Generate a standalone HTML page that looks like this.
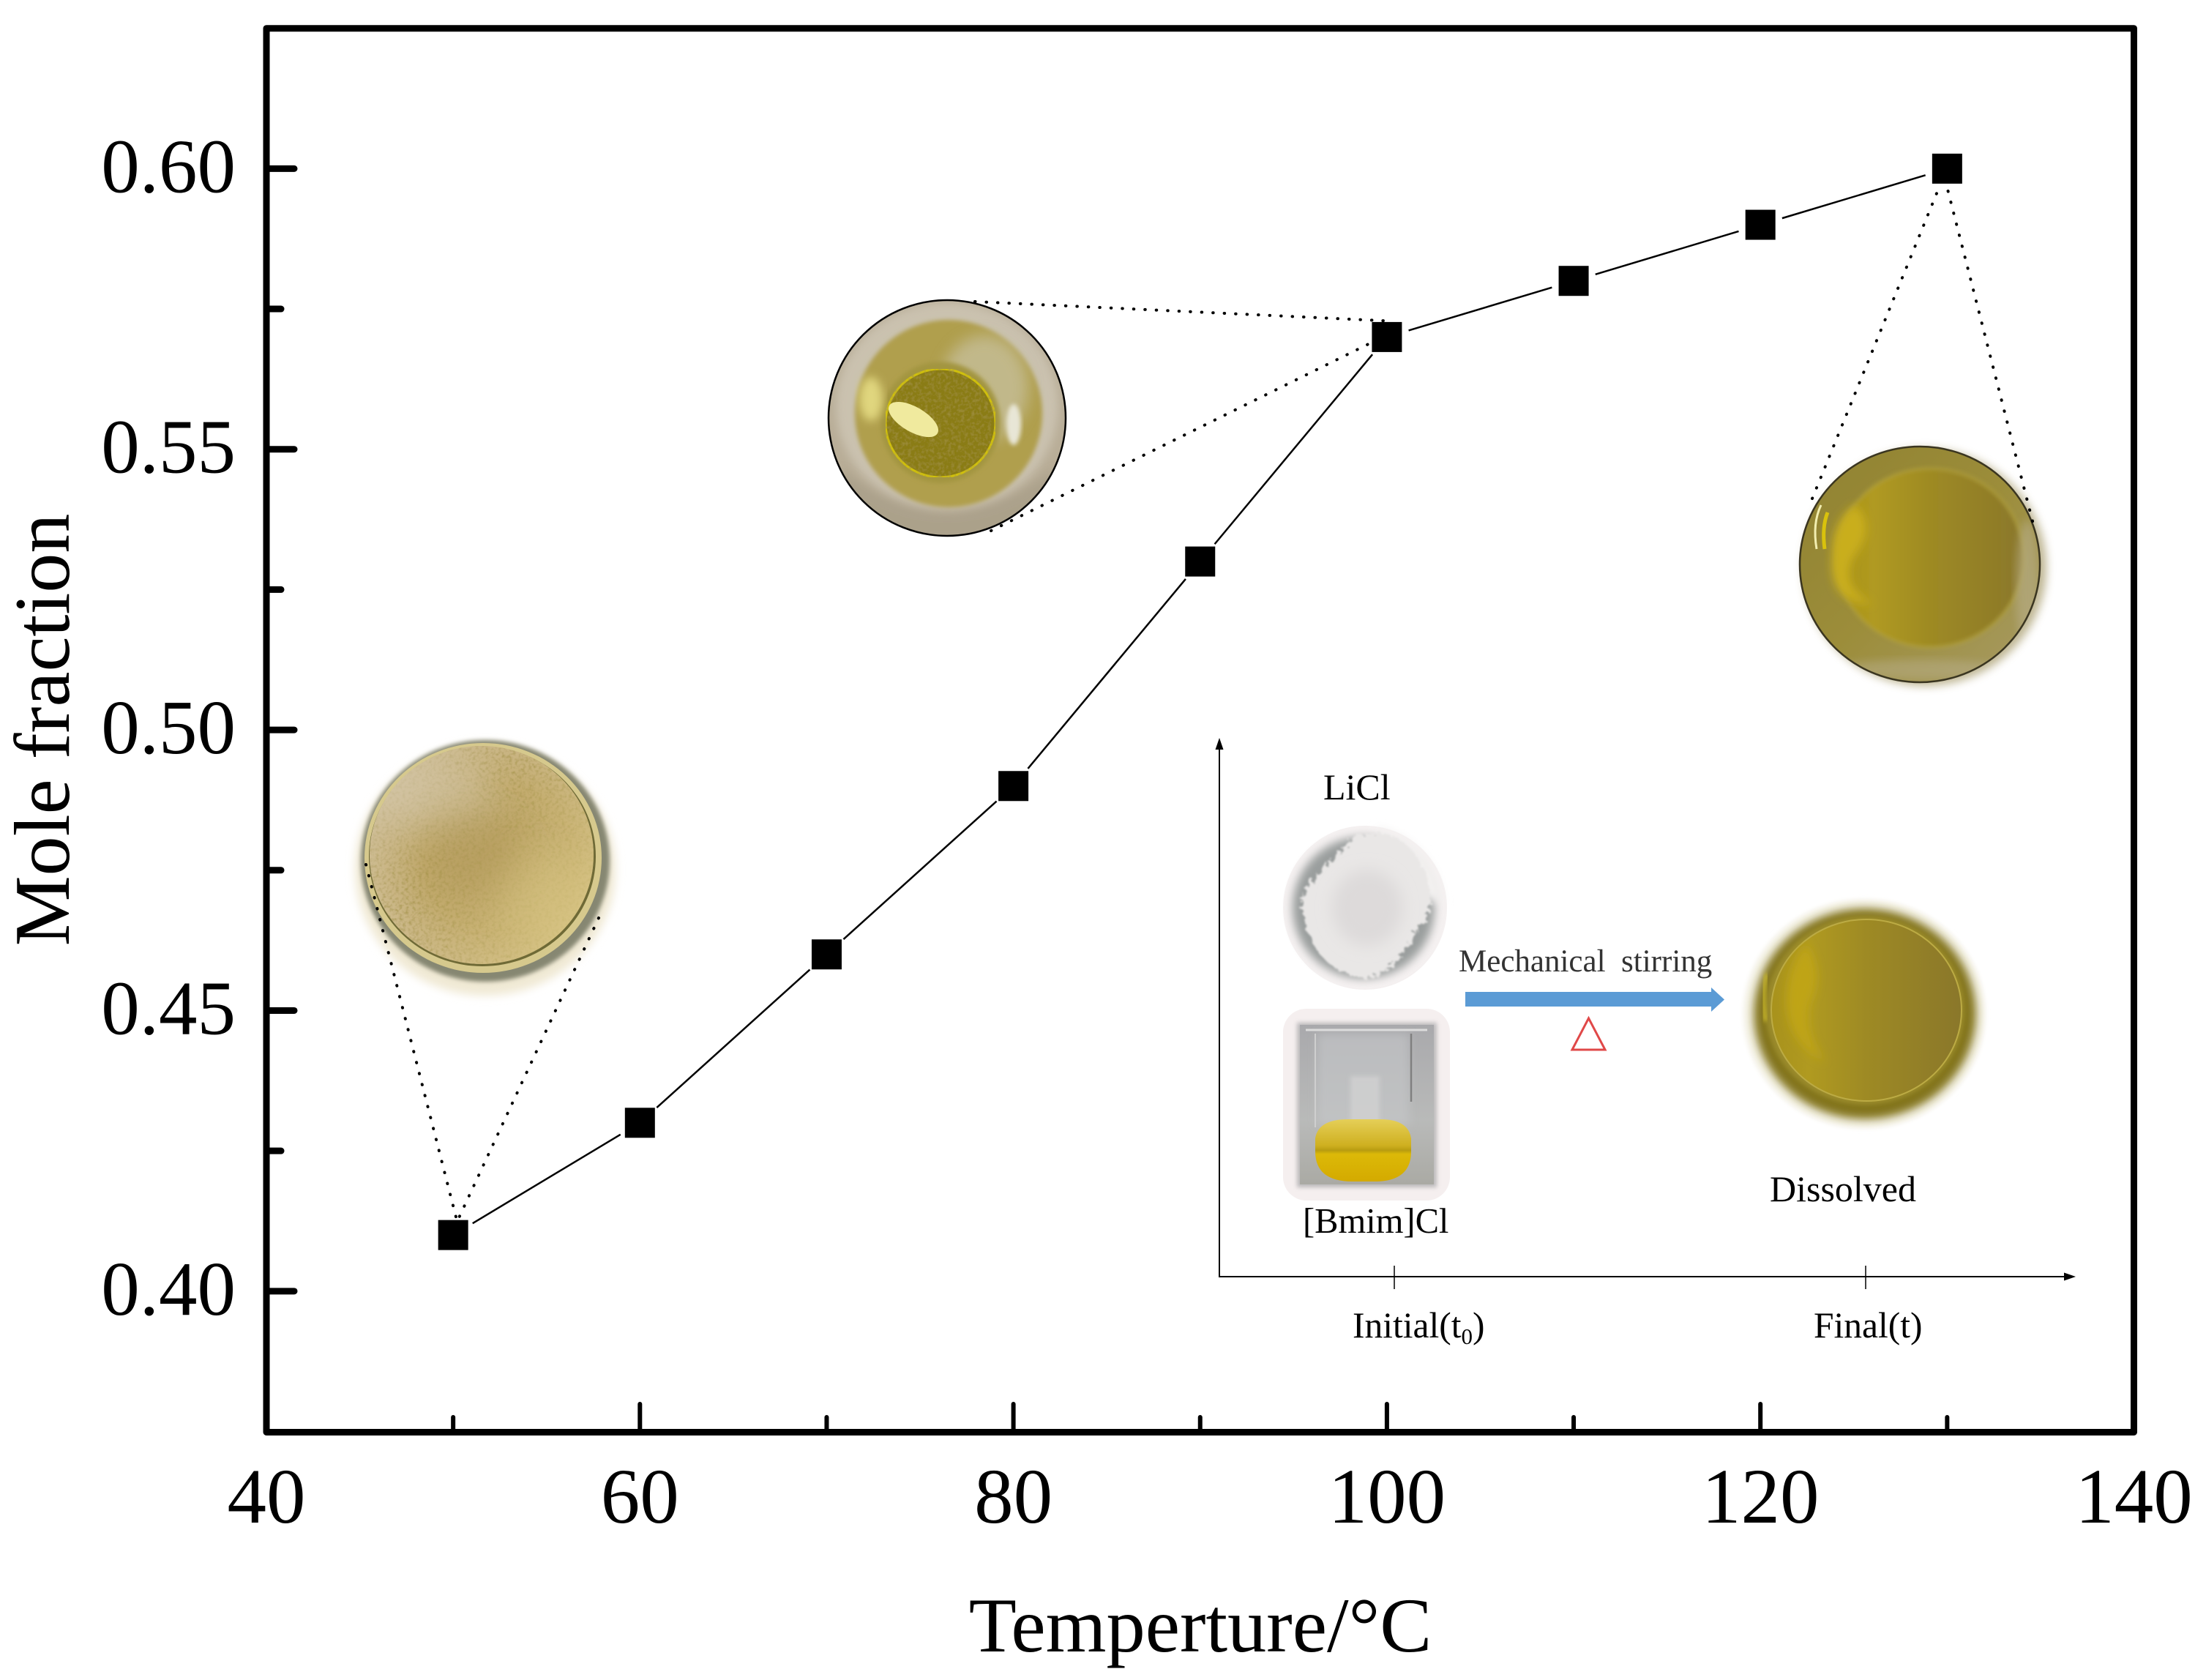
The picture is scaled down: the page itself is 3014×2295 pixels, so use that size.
<!DOCTYPE html>
<html lang="en">
<head>
<meta charset="utf-8">
<title>Mole fraction vs temperature</title>
<style>
html,body{margin:0;padding:0;background:#fff;width:3014px;height:2295px;overflow:hidden}
svg{display:block}
text{font-family:"Liberation Serif",serif;fill:#000}
</style>
</head>
<body>
<svg id="chart" xmlns="http://www.w3.org/2000/svg" width="3014" height="2295" viewBox="0 0 3014 2295">
<defs>
  <filter id="b3" x="-20%" y="-20%" width="140%" height="140%"><feGaussianBlur stdDeviation="3"/></filter>
  <filter id="b6" x="-20%" y="-20%" width="140%" height="140%"><feGaussianBlur stdDeviation="6"/></filter>
  <filter id="b10" x="-30%" y="-30%" width="160%" height="160%"><feGaussianBlur stdDeviation="10"/></filter>
  <filter id="b24" x="-60%" y="-60%" width="220%" height="220%"><feGaussianBlur stdDeviation="24"/></filter>
  <filter id="grain" x="0" y="0" width="100%" height="100%">
    <feTurbulence type="fractalNoise" baseFrequency="0.22" numOctaves="2" seed="4" result="n"/>
    <feColorMatrix in="n" type="matrix" values="0 0 0 0 0.35  0 0 0 0 0.28  0 0 0 0 0.05  1.8 0 0 0 -0.75" result="c"/>
    <feComposite in="c" in2="SourceGraphic" operator="in" result="g"/>
    <feMerge><feMergeNode in="SourceGraphic"/><feMergeNode in="g"/></feMerge>
  </filter>
  <filter id="powder" x="-10%" y="-10%" width="120%" height="120%">
    <feTurbulence type="fractalNoise" baseFrequency="0.16" numOctaves="3" seed="9" result="n"/>
    <feDisplacementMap in="SourceGraphic" in2="n" scale="16"/>
    <feGaussianBlur stdDeviation="1.200"/>
  </filter>
  <radialGradient id="tan-fill" cx="0.58" cy="0.52" r="0.62">
    <stop offset="0" stop-color="#b69c5c"/><stop offset="0.55" stop-color="#c2aa6c"/><stop offset="1" stop-color="#d1c098"/>
  </radialGradient>
  <linearGradient id="tan-side" x1="0" y1="0" x2="1" y2="0.7">
    <stop offset="0" stop-color="#d3c6aa" stop-opacity=".95"/><stop offset=".45" stop-color="#c6b07a" stop-opacity=".1"/><stop offset="1" stop-color="#dcc986" stop-opacity=".75"/>
  </linearGradient>
  <linearGradient id="oil-fill" x1="0" y1="0" x2="1" y2="0">
    <stop offset="0" stop-color="#a8921c"/><stop offset=".2" stop-color="#b09a20"/><stop offset=".5" stop-color="#9e8a24"/><stop offset="1" stop-color="#8a772a"/>
  </linearGradient>
  <linearGradient id="oil-ring" x1="0" y1="0" x2="1" y2="1">
    <stop offset="0" stop-color="#8f8130"/><stop offset=".5" stop-color="#9c8d3a"/><stop offset="1" stop-color="#a89c68"/>
  </linearGradient>
  <linearGradient id="beaker-liquid" x1="0" y1="0" x2="0" y2="1">
    <stop offset="0" stop-color="#e5cf58"/><stop offset=".42" stop-color="#cfb020"/><stop offset=".5" stop-color="#b89c10"/><stop offset=".56" stop-color="#dcb908"/><stop offset="1" stop-color="#d4aa00"/>
  </linearGradient>
  <linearGradient id="beaker-bg" x1="0" y1="0" x2="0" y2="1">
    <stop offset="0" stop-color="#a9a9ac"/><stop offset=".6" stop-color="#b9bab9"/><stop offset="1" stop-color="#aaaaa4"/>
  </linearGradient>
  <clipPath id="mid-clip"><ellipse cx="1294" cy="571" rx="162" ry="161"/></clipPath>
  <clipPath id="right-clip"><ellipse cx="2623" cy="771" rx="164" ry="161"/></clipPath>
  <clipPath id="beaker-clip"><rect x="1776" y="1400" width="183" height="218"/></clipPath>
  <clipPath id="left-clip"><ellipse cx="658" cy="1168" rx="153" ry="149"/></clipPath>
</defs>

<rect x="0" y="0" width="3014" height="2295" fill="#fff"/>

<g id="photos">
  <g>
    <ellipse cx="663" cy="1188" rx="178" ry="172" fill="#f0e9d4" filter="url(#b6)"/>
    <ellipse cx="663" cy="1176" rx="170" ry="165" fill="#868772" filter="url(#b3)"/>
    <ellipse cx="660" cy="1172" rx="162" ry="157" fill="#d6c98d"/>
    <ellipse cx="659" cy="1170" rx="155" ry="150" fill="#6f6a36"/>
    <ellipse cx="658" cy="1168" rx="153" ry="149" fill="url(#tan-fill)" filter="url(#grain)"/>
    <ellipse cx="658" cy="1168" rx="153" ry="149" fill="url(#tan-side)"/>
    <g clip-path="url(#left-clip)">
      <ellipse cx="590" cy="1085" rx="90" ry="50" fill="#d6c9b0" opacity=".5" filter="url(#b24)"/>
      <ellipse cx="640" cy="1170" rx="70" ry="60" fill="#b0985a" opacity=".35" filter="url(#b24)"/>
      <ellipse cx="740" cy="1225" rx="60" ry="60" fill="#d9c684" opacity=".35" filter="url(#b24)"/>
    </g>
  </g>

  <g clip-path="url(#mid-clip)">
    <rect x="1130" y="409" width="330" height="330" fill="#b9ae98"/>
    <ellipse cx="1294" cy="555" rx="152" ry="142" fill="#d6cfbf" opacity=".6" filter="url(#b6)"/>
    <path d="M1150 640 Q1290 760 1440 640 L1440 740 L1150 740Z" fill="#a89e88" opacity=".8" filter="url(#b6)"/>
    <ellipse cx="1296" cy="565" rx="128" ry="128" fill="#b09f4e" filter="url(#b3)"/>
    <ellipse cx="1345" cy="530" rx="60" ry="72" fill="#c9c3a4" opacity=".7" filter="url(#b10)"/>
    <ellipse cx="1285" cy="577" rx="82" ry="83" fill="#a39540" filter="url(#b3)"/>
    <ellipse cx="1285" cy="578" rx="75" ry="74" fill="#8a7b16" stroke="#d0c00a" stroke-width="3" filter="url(#grain)"/>
    <ellipse cx="1248" cy="573" rx="38" ry="17" fill="#f0ea9e" transform="rotate(30 1248 573)"/>
    <ellipse cx="1190" cy="545" rx="16" ry="30" fill="#e0d67e" filter="url(#b6)"/>
    <ellipse cx="1385" cy="580" rx="10" ry="28" fill="#e8e6d6" filter="url(#b3)"/>
  </g>
  <ellipse cx="1294" cy="571" rx="162" ry="161" fill="none" stroke="#000" stroke-width="2.500"/>

  <g>
    <ellipse cx="2630" cy="775" rx="166" ry="162" fill="#8a7a3a" opacity=".55" filter="url(#b6)"/>
    <g clip-path="url(#right-clip)">
      <rect x="2450" y="600" width="350" height="340" fill="url(#oil-ring)"/>
      <ellipse cx="2637" cy="762" rx="128" ry="122" fill="url(#oil-fill)" stroke="#b3a23c" stroke-width="2.500" filter="url(#b3)"/>
      <path d="M2535 690 q30 30 -2 70 q-20 40 25 65 q-60 0 -55 -65 q0 -50 32 -70z" fill="#c9ae1e" filter="url(#b6)"/>
      <path d="M2488 690 q-12 25 -6 60" fill="none" stroke="#f2eeb0" stroke-width="3"/>
      <path d="M2497 700 q-8 20 -4 50" fill="none" stroke="#d9c20c" stroke-width="5"/>
      <ellipse cx="2623" cy="915" rx="120" ry="14" fill="#bcb394" opacity=".45" filter="url(#b6)"/>
      <ellipse cx="2770" cy="800" rx="16" ry="90" fill="#b8ae8a" opacity=".6" filter="url(#b6)"/>
    </g>
    <ellipse cx="2623" cy="771" rx="164" ry="161" fill="none" stroke="#3a3520" stroke-width="2.500"/>
  </g>
</g>

<g id="inset">
  <g>
    <circle cx="1865" cy="1240" r="112" fill="#f5f1f1"/>
    <circle cx="1863" cy="1240" r="97" fill="#9a9e9d" filter="url(#b6)"/>
    <path d="M1880 1130 a112 112 0 0 1 92 105 l-30 -10 l-50 -60z" fill="#f3f1f0" filter="url(#b6)"/>
    <path d="M1850 1142 q60 -18 92 38 q28 55 -8 95 q-25 52 -68 62 q-55 -8 -76 -56 q-25 -55 8 -84 q30 -30 52 -55z" fill="#e9e7e6" filter="url(#powder)"/>
    <ellipse cx="1868" cy="1240" rx="48" ry="52" fill="#dddada" filter="url(#b10)"/>
  </g>
  <g>
    <rect x="1753" y="1378" width="228" height="262" rx="32" fill="#f5efef"/>
    <rect x="1772" y="1397" width="191" height="225" fill="#a4a4a6" filter="url(#b3)" opacity=".7"/>
    <rect x="1776" y="1400" width="183" height="218" fill="url(#beaker-bg)"/>
    <g clip-path="url(#beaker-clip)">
      <rect x="1800" y="1412" width="125" height="125" fill="#c6c8ca" opacity=".6" filter="url(#b6)"/>
      <rect x="1845" y="1470" width="40" height="66" fill="#d4d4d4" opacity=".7" filter="url(#b3)"/>
      <path d="M1784 1407 H1950" stroke="#dcdcdc" stroke-width="3" fill="none"/>
      <path d="M1928 1412 V1505" stroke="#808080" stroke-width="2.500" fill="none"/>
      <path d="M1797 1412 V1540" stroke="#cfcfcf" stroke-width="2" fill="none"/>
      <path d="M1797 1555 q4 -26 45 -26 h44 q38 0 42 26 v18 q0 41 -50 41 h-30 q-51 0 -51 -41z" fill="url(#beaker-liquid)"/>
    </g>
  </g>
  <g>
    <ellipse cx="2547" cy="1385" rx="166" ry="157" fill="#f7f5ec" filter="url(#b3)"/>
    <ellipse cx="2548" cy="1385" rx="152" ry="144" fill="#83741a" filter="url(#b6)"/>
    <ellipse cx="2548" cy="1380" rx="136" ry="129" fill="#9a8a2a" filter="url(#b3)"/>
    <ellipse cx="2550" cy="1380" rx="130" ry="124" fill="url(#oil-fill)" stroke="#bcab44" stroke-width="2"/>
    <path d="M2468 1290 q25 40 5 80 q-10 40 20 80 q-50 -25 -52 -80 q0 -50 27 -80z" fill="#bfa416" filter="url(#b6)"/>
    <path d="M2414 1330 q-8 30 -2 65" fill="none" stroke="#d8c62a" stroke-width="4" filter="url(#b3)"/>
  </g>

  <path id="inset-axes" d="M1666 1020V1744H2825" fill="none" stroke="#000" stroke-width="2"/>
  <path d="M1666 1008l-5.500 16h11z" fill="#000"/>
  <path d="M2836 1744l-16 -5.500v11z" fill="#000"/>
  <path d="M1905 1729V1761" stroke="#000" stroke-width="1.500"/>
  <path d="M2549 1729V1761" stroke="#000" stroke-width="1.500"/>

  <path d="M2002 1355H2338V1349L2356 1365.500L2338 1382V1375H2002Z" fill="#5b9bd5"/>
  <path d="M2170.500 1391L2148 1434H2193Z" fill="none" stroke="#e04848" stroke-width="3"/>

  <text x="1808" y="1092" font-size="50">LiCl</text>
  <text x="1993" y="1327" font-size="43" style="fill:#333">Mechanical&#160; stirring</text>
  <text x="1780" y="1684" font-size="48.500">[Bmim]Cl</text>
  <text x="2418" y="1641" font-size="50">Dissolved</text>
  <text x="1848" y="1827" font-size="49.500">Initial(t<tspan font-size="31" dy="9">0</tspan><tspan dy="-9">)</tspan></text>
  <text x="2478" y="1827" font-size="49.500">Final(t)</text>
</g>

<g id="connectors"></g>
<g id="series"></g>
<g id="axes"></g>

<text x="0" y="0" font-size="108" text-anchor="middle" transform="translate(94 997) rotate(-90)">Mole fraction</text>
<text x="1640" y="2256" font-size="106.500" text-anchor="middle">Temperture/°C</text>
</svg>

<script>
const temperatures = [50, 60, 70, 80, 90, 100, 110, 120, 130];
const moleFractions = [0.41, 0.43, 0.46, 0.49, 0.53, 0.57, 0.58, 0.59, 0.60];
const xTickValues = [40, 50, 60, 70, 80, 90, 100, 110, 120, 130, 140];
const xTickLabels = ['40', '', '60', '', '80', '', '100', '', '120', '', '140'];
const yTickValues = [0.375, 0.40, 0.425, 0.45, 0.475, 0.50, 0.525, 0.55, 0.575, 0.60, 0.625];
const yTickLabels = ['', '0.40', '', '0.45', '', '0.50', '', '0.55', '', '0.60', ''];

const NS = 'http://www.w3.org/2000/svg';
const plot = { left: 364, right: 2915.5, top: 38.7, bottom: 1955.5 };
const xDomain = [40, 140];
const yDomain = [0.375, 0.625];
function xScale(v) { return plot.left + (v - xDomain[0]) / (xDomain[1] - xDomain[0]) * (plot.right - plot.left); }
function yScale(v) { return plot.bottom - (v - yDomain[0]) / (yDomain[1] - yDomain[0]) * (plot.bottom - plot.top); }
function make(tag, parent, props) {
  const el = document.createElementNS(NS, tag);
  for (const k in props) el.setAttribute(k, props[k]);
  parent.appendChild(el);
  return el;
}

const axesGroup = document.getElementById('axes');
const seriesGroup = document.getElementById('series');
const connectorGroup = document.getElementById('connectors');

const frame = make('rect', axesGroup, { x: plot.left, y: plot.top, width: plot.right - plot.left, height: plot.bottom + 1 - plot.top, fill: 'none', stroke: '#000', 'stroke-width': 9, 'stroke-linejoin': 'round' });



xTickValues.forEach(function (v, i) {
  const major = xTickLabels[i] !== '';
  if (i > 0 && i < xTickValues.length - 1) {
    const tick = make('line', axesGroup, { x1: xScale(v), x2: xScale(v), y1: plot.bottom, y2: major ? 1918 : 1936, stroke: '#000', 'stroke-width': 6, 'stroke-linecap': 'round' });
    
    
  }
  if (major) {
    const label = make('text', axesGroup, { x: xScale(v), y: 2080, 'font-size': 107, 'text-anchor': 'middle' });
    label.textContent = xTickLabels[i];
    
    
  }
});

yTickValues.forEach(function (v, i) {
  const major = yTickLabels[i] !== '';
  if (i > 0 && i < yTickValues.length - 1) {
    const tick = make('line', axesGroup, { x1: plot.left, x2: major ? 402 : 384, y1: yScale(v), y2: yScale(v), stroke: '#000', 'stroke-width': 9, 'stroke-linecap': 'round' });
    
    
  }
  if (major) {
    const label = make('text', axesGroup, { x: 322, y: yScale(v) + 32, 'font-size': 105, 'text-anchor': 'end' });
    label.textContent = yTickLabels[i];
    
    
  }
});

const markerGap = 31;
for (let i = 0; i < temperatures.length - 1; i++) {
  const x1 = xScale(temperatures[i]);
  const y1 = yScale(moleFractions[i]);
  const x2 = xScale(temperatures[i + 1]);
  const y2 = yScale(moleFractions[i + 1]);
  const len = Math.hypot(x2 - x1, y2 - y1);
  const ux = (x2 - x1) / len;
  const uy = (y2 - y1) / len;
  const seg = make('line', seriesGroup, { x1: x1 + ux * markerGap, y1: y1 + uy * markerGap, x2: x2 - ux * markerGap, y2: y2 - uy * markerGap, stroke: '#000', 'stroke-width': 2.5 });
  
  
}
temperatures.forEach(function (t, i) {
  const size = 41;
  const point = make('rect', seriesGroup, { x: xScale(t) - size / 2, y: yScale(moleFractions[i]) - size / 2, width: size, height: size, fill: '#000' });
  
  
});

function connector(index, fromX, fromY, offX, offY) {
  const line = make('line', connectorGroup, { x1: fromX, y1: fromY, x2: xScale(temperatures[index]) + offX, y2: yScale(moleFractions[index]) + offY, stroke: '#000', 'stroke-width': 4, 'stroke-linecap': 'round', 'stroke-dasharray': '0.5 15' });
  
  
}
connector(0, 500, 1181, 4, -24);
connector(0, 818, 1254, 8, -24);
connector(5, 1332, 412, 0, -22);
connector(5, 1354, 725, -20, 7);
connector(8, 2476, 681, -12, 28);
connector(8, 2777, 712, 0, 26);
</script>
</body>
</html>
